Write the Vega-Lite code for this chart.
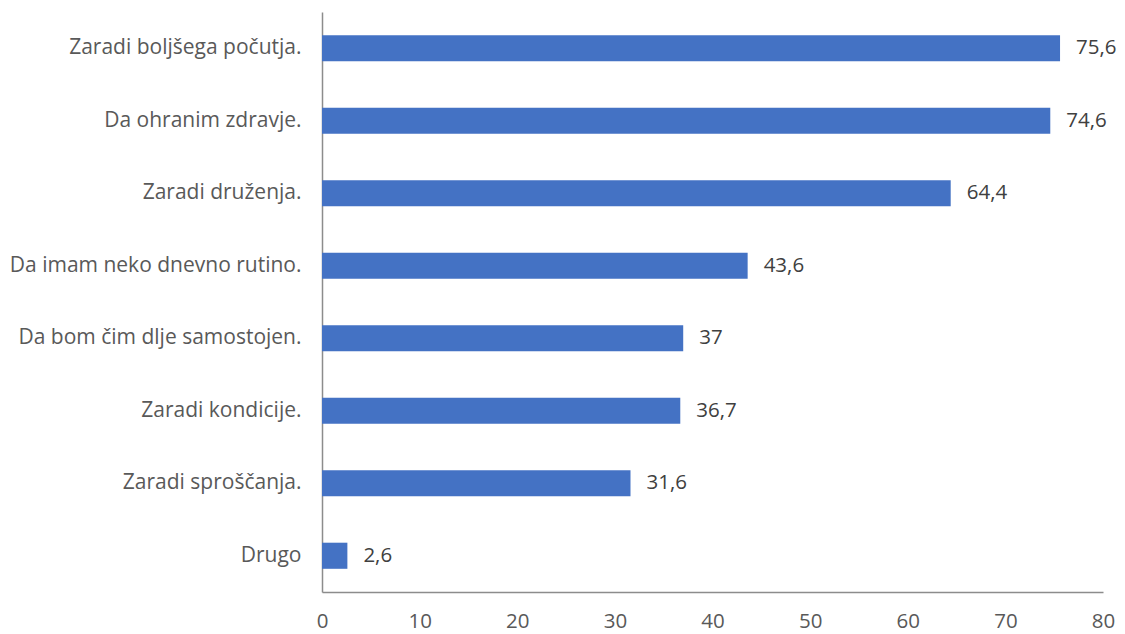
{
  "$schema": "https://vega.github.io/schema/vega-lite/v6.json",
  "width": 781,
  "height": 580,
  "autosize": "none",
  "padding": {"left": 322, "top": 12, "right": 22, "bottom": 42},
  "background": "white",
  "data": {
    "values": [
      {"kategorija": "Zaradi boljšega počutja.", "odstotek": 75.6},
      {"kategorija": "Da ohranim zdravje.", "odstotek": 74.6},
      {"kategorija": "Zaradi druženja.", "odstotek": 64.4},
      {"kategorija": "Da imam neko dnevno rutino.", "odstotek": 43.6},
      {"kategorija": "Da bom čim dlje samostojen.", "odstotek": 37},
      {"kategorija": "Zaradi kondicije.", "odstotek": 36.7},
      {"kategorija": "Zaradi sproščanja.", "odstotek": 31.6},
      {"kategorija": "Drugo", "odstotek": 2.6}
    ]
  },
  "encoding": {
    "y": {
      "field": "kategorija",
      "type": "nominal",
      "sort": null,
      "scale": {"paddingInner": 0.64, "paddingOuter": 0.32},
      "axis": {
        "title": null,
        "ticks": false,
        "labelFont": "Open Sans",
        "labelFontSize": 21,
        "labelColor": "#595959",
        "labelPadding": 21,
        "labelLimit": 400,
        "domainColor": "#8c8c8c",
        "domainWidth": 1.5
      }
    },
    "x": {
      "field": "odstotek",
      "type": "quantitative",
      "scale": {"domain": [0, 80], "nice": false},
      "axis": {
        "title": null,
        "ticks": false,
        "grid": false,
        "labelFlush": false,
        "values": [0, 10, 20, 30, 40, 50, 60, 70, 80],
        "labelFont": "Open Sans",
        "labelFontSize": 20.5,
        "labelColor": "#595959",
        "labelPadding": 19,
        "domainColor": "#8c8c8c",
        "domainWidth": 1.5
      }
    }
  },
  "layer": [
    {"mark": {"type": "bar", "color": "#4472C4"}},
    {
      "mark": {"type": "text", "align": "left", "baseline": "middle", "dx": 16, "font": "Open Sans", "fontSize": 20.5, "color": "#404040"},
      "encoding": {"text": {"field": "odstotek", "type": "quantitative", "format": "~g"}}
    }
  ],
  "config": {
    "view": {"stroke": null},
    "locale": {
      "number": {"decimal": ",", "thousands": ".", "grouping": [3], "currency": ["", " €"]}
    }
  }
}
